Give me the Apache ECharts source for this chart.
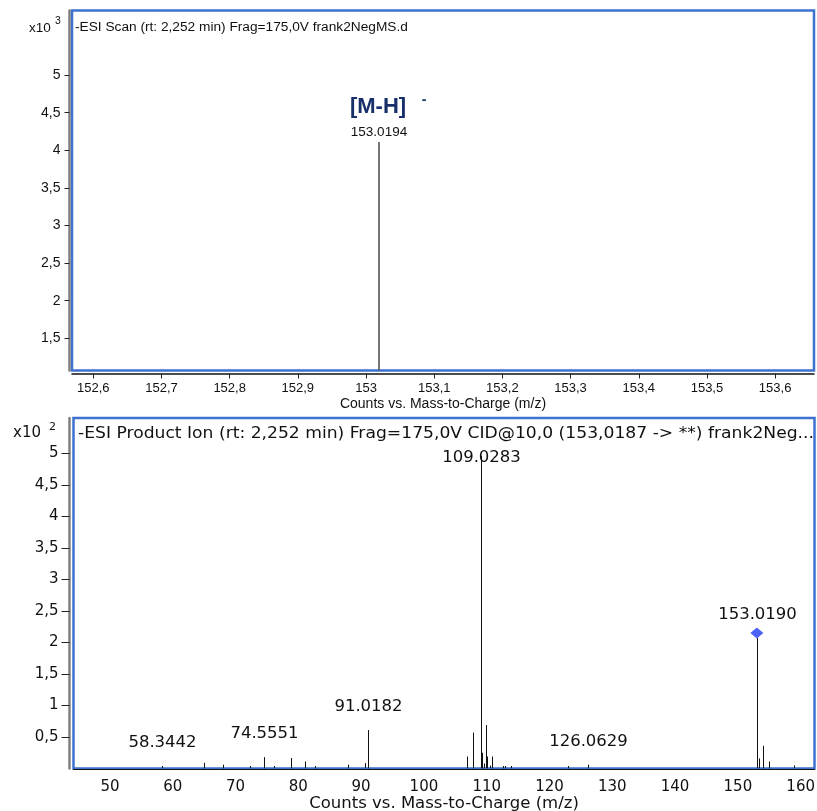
<!DOCTYPE html>
<html><head><meta charset="utf-8">
<script src="https://cdn.jsdelivr.net/npm/echarts@6/dist/echarts.min.js"></script>
<style>html,body{margin:0;padding:0;background:#fff}#c{width:817px;height:811px}</style>
</head><body><div id="c"></div>
<script>
// ---- Top panel: MS1 scan (x10^3 counts) ----
const topMz = [153.0194];
const topInt = [4.11];
const topLabels = ['153.0194'];
const topXTicks = [152.6, 152.7, 152.8, 152.9, 153, 153.1, 153.2, 153.3, 153.4, 153.5, 153.6];
const topYTicks = [1.5, 2, 2.5, 3, 3.5, 4, 4.5, 5];

// ---- Bottom panel: product ion scan (x10^2 counts) ----
const bottomMz = [58.3442, 65.0, 68.0, 72.3, 74.5551, 76.2, 78.9, 81.0, 82.6, 87.9, 90.6, 91.0182,
  106.84, 107.87, 109.0283, 109.2, 109.33, 109.54, 109.87, 110.0, 110.5, 110.87, 112.56, 112.94, 113.9,
  122.9, 126.0629, 153.0190, 153.3, 153.95, 154.9, 159.0];
const bottomInt = [0.04, 0.09, 0.06, 0.04, 0.18, 0.04, 0.165, 0.11, 0.04, 0.06, 0.085, 0.61,
  0.19, 0.57, 4.96, 0.25, 0.09, 0.08, 0.69, 0.19, 0.045, 0.19, 0.04, 0.04, 0.04,
  0.04, 0.06, 2.07, 0.16, 0.36, 0.11, 0.05];
const bottomLabels = ['58.3442', '', '', '', '74.5551', '', '', '', '', '', '', '91.0182',
  '', '', '109.0283', '', '', '', '', '', '', '', '', '', '',
  '', '126.0629', '153.0190', '', '', '', ''];
const precursorMz = [153.0190];
const precursorInt = [2.07];
const bottomXTicks = [50, 60, 70, 80, 90, 100, 110, 120, 130, 140, 150, 160];
const bottomYTicks = [0.5, 1, 1.5, 2, 2.5, 3, 3.5, 4, 4.5, 5];

const fTop = '"Liberation Sans", Arial, sans-serif';
const fBot = '"DejaVu Sans", sans-serif';
const blue = '#3d72cf';
const comma = v => String(v).replace('.', ',');

function topRender(params, api) {
  const x = api.value(0), y = api.value(1);
  const p0 = api.coord([x, 0]);
  const p1 = api.coord([x, y]);
  const px = Math.round(p1[0]);
  return {
    type: 'group',
    children: [
      { type: 'line', shape: { x1: px, y1: p0[1], x2: px, y2: p1[1] },
        style: { stroke: '#555', lineWidth: 1.6 } },
      { type: 'text', style: { text: topLabels[params.dataIndex], x: px, y: p1[1] - 10,
        align: 'center', verticalAlign: 'middle', font: '13.5px ' + fTop, fill: '#111' } },
      { type: 'text', style: { text: '[M-H]', x: px - 1, y: p1[1] - 35,
        align: 'center', verticalAlign: 'middle', font: 'bold 22px ' + fTop, fill: '#17306b' } },
      { type: 'text', style: { text: '-', x: px + 45, y: p1[1] - 42,
        align: 'center', verticalAlign: 'middle', font: 'bold 14px ' + fTop, fill: '#17306b' } }
    ]
  };
}

function bottomRender(params, api) {
  const x = api.value(0), y = api.value(1);
  const p0 = api.coord([x, 0]);
  const p1 = api.coord([x, y]);
  const px = Math.round(p1[0]) + 0.5;
  const children = [
    { type: 'line', shape: { x1: px, y1: p0[1], x2: px, y2: p1[1] },
      style: { stroke: '#111', lineWidth: 1 } }
  ];
  const lab = bottomLabels[params.dataIndex];
  if (lab) {
    const ty = Math.max(p1[1] - 23, params.coordSys.y + 40);
    children.push({ type: 'text', style: { text: lab, x: px, y: ty,
      align: 'center', verticalAlign: 'middle', font: '16.5px ' + fBot, fill: '#111' } });
  }
  return { type: 'group', children };
}

const chart = echarts.init(document.getElementById('c'), null, { renderer: 'canvas' });
chart.setOption({
  animation: false,
  backgroundColor: '#fff',
  grid: [
    { left: 72, top: 10.5, width: 742, height: 360, show: true, borderColor: blue, borderWidth: 2.5,
      backgroundColor: '#fff', containLabel: false, outerBoundsMode: 'none' },
    { left: 73.5, top: 418, width: 741, height: 350.5, show: true, borderColor: blue, borderWidth: 2.5,
      backgroundColor: '#fff', containLabel: false, outerBoundsMode: 'none' }
  ],
  xAxis: [
    { type: 'value', gridIndex: 0, min: 152.5688, max: 153.657, offset: 3,
      axisLine: { show: true, onZero: false, lineStyle: { color: '#111', width: 1.5 } },
      axisTick: { show: true, length: 5, lineStyle: { color: '#222' }, customValues: topXTicks },
      axisLabel: { customValues: topXTicks, formatter: comma, fontSize: 13, fontFamily: fTop, color: '#111', margin: 8 },
      splitLine: { show: false },
      name: 'Counts vs. Mass-to-Charge (m/z)', nameLocation: 'middle', nameGap: 24,
      nameTextStyle: { fontSize: 14, fontFamily: fTop, color: '#111' } },
    { type: 'value', gridIndex: 1, min: 44.2, max: 162.2, offset: 1,
      axisLine: { show: true, onZero: false, lineStyle: { color: '#111', width: 1 } },
      axisTick: { show: false, customValues: bottomXTicks },
      axisLabel: { customValues: bottomXTicks, formatter: comma, fontSize: 15, fontFamily: fBot, color: '#111', margin: 10 },
      splitLine: { show: false },
      name: 'Counts vs. Mass-to-Charge (m/z)', nameLocation: 'middle', nameGap: 25,
      nameTextStyle: { fontSize: 16.5, fontFamily: fBot, color: '#111' } }
  ],
  yAxis: [
    { type: 'value', gridIndex: 0, min: 1.072, max: 5.858, offset: 2.5,
      axisLine: { show: true, onZero: false, lineStyle: { color: '#808080', width: 2.5 } },
      axisTick: { show: true, length: 5, lineStyle: { color: '#222' }, customValues: topYTicks },
      axisLabel: { customValues: topYTicks, formatter: comma, fontSize: 14, fontFamily: fTop, color: '#111', margin: 9 },
      splitLine: { show: false } },
    { type: 'value', gridIndex: 1, min: 0, max: 5.56, offset: 4,
      axisLine: { show: true, onZero: false, lineStyle: { color: '#808080', width: 2.5 } },
      axisTick: { show: true, length: 8, lineStyle: { color: '#222' }, customValues: bottomYTicks },
      axisLabel: { customValues: bottomYTicks, formatter: comma, fontSize: 15, fontFamily: fBot, color: '#111', margin: 11 },
      splitLine: { show: false } }
  ],
  series: [
    { type: 'custom', xAxisIndex: 0, yAxisIndex: 0, clip: true, renderItem: topRender,
      data: topMz.map((m, i) => [m, topInt[i]]) },
    { type: 'custom', xAxisIndex: 1, yAxisIndex: 1, clip: true, renderItem: bottomRender,
      data: bottomMz.map((m, i) => [m, bottomInt[i]]) },
    { type: 'scatter', xAxisIndex: 1, yAxisIndex: 1, symbol: 'diamond', symbolSize: [13, 11],
      symbolOffset: [0, -5], itemStyle: { color: '#1f3cf5' },
      data: precursorMz.map((m, i) => [m, precursorInt[i]]) }
  ],
  graphic: [
    { type: 'text', left: 75, top: 20, z: 100, style: { text: '-ESI Scan (rt: 2,252 min) Frag=175,0V frank2NegMS.d', font: '13.7px ' + fTop, fill: '#111' } },
    { type: 'text', left: 29, top: 21, z: 100, style: { text: 'x10', font: '13.5px ' + fTop, fill: '#111' } },
    { type: 'text', left: 55, top: 16, z: 100, style: { text: '3', font: '10.5px ' + fTop, fill: '#111' } },
    { type: 'text', left: 78, top: 425, z: 100, scaleX: 1.04, style: { text: '-ESI Product Ion (rt: 2,252 min) Frag=175,0V CID@10,0 (153,0187 -> **) frank2Neg...', font: '16.5px ' + fBot, fill: '#111' } },
    { type: 'text', left: 13, top: 426, z: 100, style: { text: 'x10', font: '15px ' + fBot, fill: '#111' } },
    { type: 'text', left: 49, top: 422, z: 100, style: { text: '2', font: '11px ' + fBot, fill: '#111' } }
  ]
});
</script>
</body></html>
